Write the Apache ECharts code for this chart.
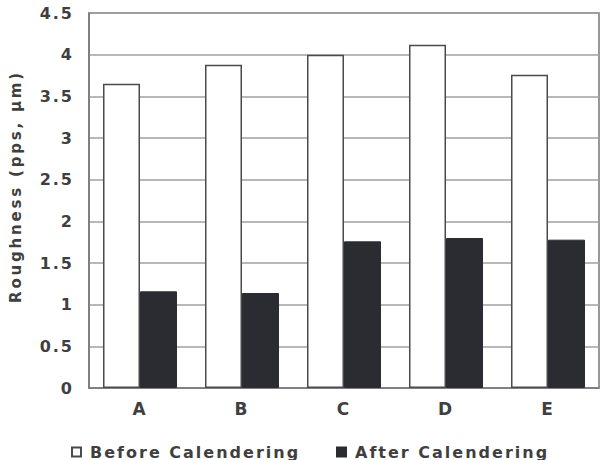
<!DOCTYPE html>
<html>
<head>
<meta charset="utf-8">
<script src="https://cdn.jsdelivr.net/npm/echarts@6/dist/echarts.min.js"></script>
<style>
  html, body { margin: 0; padding: 0; background: #fff; }
  #chart { width: 608px; height: 460px; }
  /* the scanned figure uses widely spaced lettering */
  #chart text { letter-spacing: 2px; }
  #chart text[style*="15px"] { letter-spacing: 2.8px; }
</style>
</head>
<body>
<div id="chart"></div>
<script>
// values
var categories = ['A', 'B', 'C', 'D', 'E'];
var beforeCal = [3.65, 3.88, 4.0, 4.12, 3.76];
var afterCal = [1.16, 1.14, 1.76, 1.80, 1.78];
var yMin = 0, yMax = 4.5, yStep = 0.5;

var txt = '#3f3f3f';
var font = 'DejaVu Sans';

var chart = echarts.init(document.getElementById('chart'), null, { renderer: 'svg' });
chart.setOption({
    animation: false,
    grid: {
        left: 88,
        right: 9,
        top: 13,
        bottom: 72,
        show: true,
        borderColor: '#777',
        borderWidth: 1.5
    },
    legend: [
        {
            data: [{ name: 'Before Calendering', icon: 'rect' }],
            left: 66,
            top: 439,
            itemWidth: 9,
            itemHeight: 9,
            textStyle: { fontFamily: font, fontWeight: 'bold', fontSize: 16, color: txt, padding: [0, 0, 0, 4] }
        },
        {
            data: [{ name: 'After Calendering', icon: 'rect' }],
            left: 331,
            top: 439,
            itemWidth: 9,
            itemHeight: 9,
            textStyle: { fontFamily: font, fontWeight: 'bold', fontSize: 16, color: txt, padding: [0, 0, 0, 4] }
        }
    ],
    xAxis: {
        type: 'category',
        data: categories,
        axisLine: { lineStyle: { color: '#777', width: 1.5 } },
        axisTick: { show: false },
        axisLabel: { margin: 12, fontFamily: font, fontWeight: 'bold', fontSize: 17, color: txt }
    },
    yAxis: {
        type: 'value',
        min: yMin,
        max: yMax,
        interval: yStep,
        name: 'Roughness (pps, μm)',
        nameLocation: 'middle',
        nameRotate: 90,
        nameGap: 66,
        nameTextStyle: { fontFamily: font, fontWeight: 'bold', fontSize: 15, color: txt, padding: [0, 0, 0, 28] },
        axisLine: { show: true, lineStyle: { color: '#777', width: 1.5 } },
        axisTick: { show: false },
        splitLine: { lineStyle: { color: '#a0a0a0', width: 1.5 } },
        axisLabel: { margin: 15, fontFamily: font, fontWeight: 'bold', fontSize: 16, color: txt }
    },
    series: [
        {
            name: 'Before Calendering',
            type: 'bar',
            barWidth: 37,
            barGap: '0%',
            itemStyle: { color: '#fff', borderColor: '#4a4a4a', borderWidth: 1.5 },
            data: beforeCal
        },
        {
            name: 'After Calendering',
            type: 'bar',
            barWidth: 37,
            barGap: '0%',
            itemStyle: { color: '#2b2c31', borderColor: '#2b2c31', borderWidth: 1 },
            data: afterCal
        }
    ]
});
</script>
</body>
</html>
